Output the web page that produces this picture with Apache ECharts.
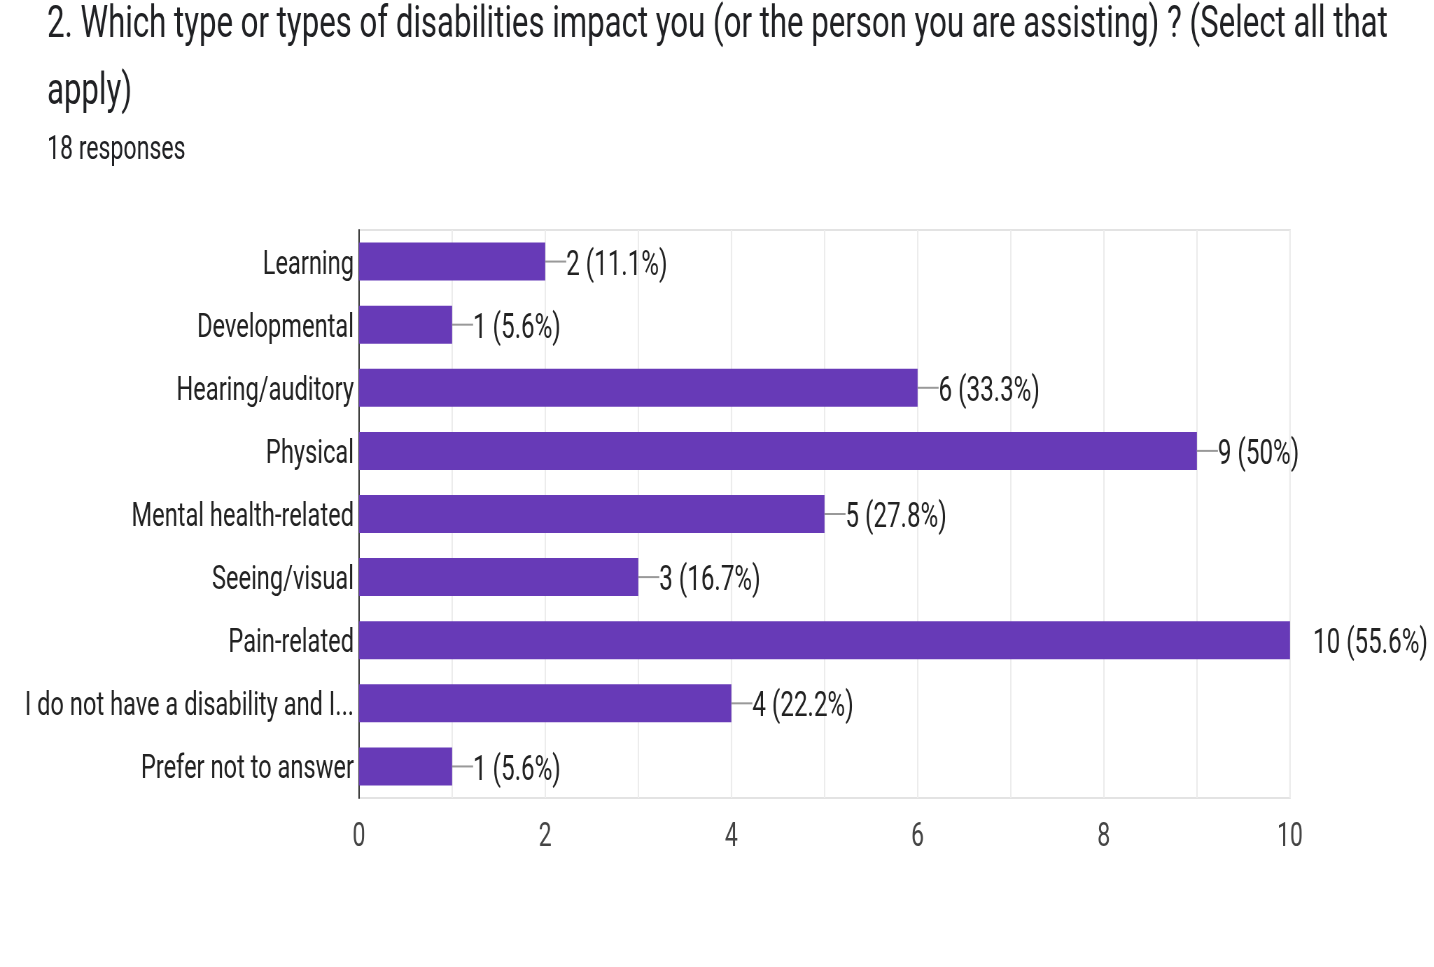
<!DOCTYPE html>
<html>
<head>
<meta charset="utf-8">
<script src="https://cdn.jsdelivr.net/npm/echarts@6/dist/echarts.min.js"></script>
<style>
  html, body { margin: 0; padding: 0; background: #fff; overflow: hidden; }
  /* the reference is horizontally squeezed, so draw wide and squeeze */
  #chart { height: 967px; transform-origin: 0 0; }
</style>
</head>
<body>
<div id="chart"></div>
<script>
  var SQUEEZE = 0.70;
  var W = 1434 / SQUEEZE;

  var categories = [
    'Learning',
    'Developmental',
    'Hearing/auditory',
    'Physical',
    'Mental health-related',
    'Seeing/visual',
    'Pain-related',
    'I do not have a disability and I...',
    'Prefer not to answer'
  ];
  var counts = [2, 1, 6, 9, 5, 3, 10, 4, 1];
  var percents = ['11.1%', '5.6%', '33.3%', '50%', '27.8%', '16.7%', '55.6%', '22.2%', '5.6%'];
  var ticks = [0, 2, 4, 6, 8, 10];

  var el = document.getElementById('chart');
  el.style.width = W + 'px';
  el.style.transform = 'scaleX(' + SQUEEZE + ')';

  // x in reference pixels -> x in the unsqueezed canvas
  function rx(x) { return x / SQUEEZE; }

  var chart = echarts.init(el);
  var font = 'Roboto';

  var barData = counts.map(function(v, i) {
    return { value: v, label: { formatter: '{' + (v === 10 ? 'n' : 'l') + '|}{t|' + v + ' (' + percents[i] + ')}' } };
  });

  var option = {
    backgroundColor: '#fff',
    animation: false,
    title: [
      {
        text: '2. Which type or types of disabilities impact you (or the person you are assisting) ? (Select all that\napply)',
        left: rx(47),
        top: -8,
        padding: 0,
        textStyle: { fontFamily: font, fontSize: 44.5, fontWeight: 'normal', color: '#202124', lineHeight: 67 }
      },
      {
        text: '18 responses',
        left: rx(47),
        top: 131,
        padding: 0,
        textStyle: { fontFamily: font, fontSize: 33, fontWeight: 'normal', color: '#202124', lineHeight: 40 }
      }
    ],
    grid: {
      left: rx(359),
      width: rx(1290) - rx(359),
      top: 230,
      height: 568,
      show: true,
      borderColor: '#e3e3e3',
      borderWidth: 2,
      containLabel: false
    },
    xAxis: {
      type: 'value',
      min: 0,
      max: 10,
      interval: 1,
      axisLine: { show: false },
      axisTick: { show: false },
      splitLine: { lineStyle: { color: '#ececec', width: 2 } },
      axisLabel: {
        margin: 23,
        fontFamily: font,
        fontSize: 33,
        color: '#444',
        formatter: function(v) { return ticks.indexOf(v) >= 0 ? String(v) : ''; }
      }
    },
    yAxis: {
      type: 'category',
      inverse: true,
      data: categories,
      axisLine: { show: true, lineStyle: { color: '#333', width: 2 } },
      axisTick: { show: false },
      axisLabel: {
        margin: rx(5),
        formatter: function(v) { return '{c|' + v + '}'; },
        rich: {
          c: { fontFamily: font, fontSize: 33.8, color: '#222', padding: [7, 0, 0, 0] }
        }
      }
    },
    series: [
      {
        type: 'bar',
        data: barData,
        barWidth: 38,
        itemStyle: { color: '#673ab7' },
        label: {
          show: true,
          position: 'right',
          distance: 0,
          rich: {
            l: { width: rx(21), height: 2, backgroundColor: '#999' },
            n: { width: rx(23), height: 2 },
            t: { fontFamily: font, fontSize: 34.6, color: '#222', padding: [9, 0, 0, 0] }
          }
        }
      }
    ]
  };

  chart.setOption(option);
</script>
</body>
</html>
